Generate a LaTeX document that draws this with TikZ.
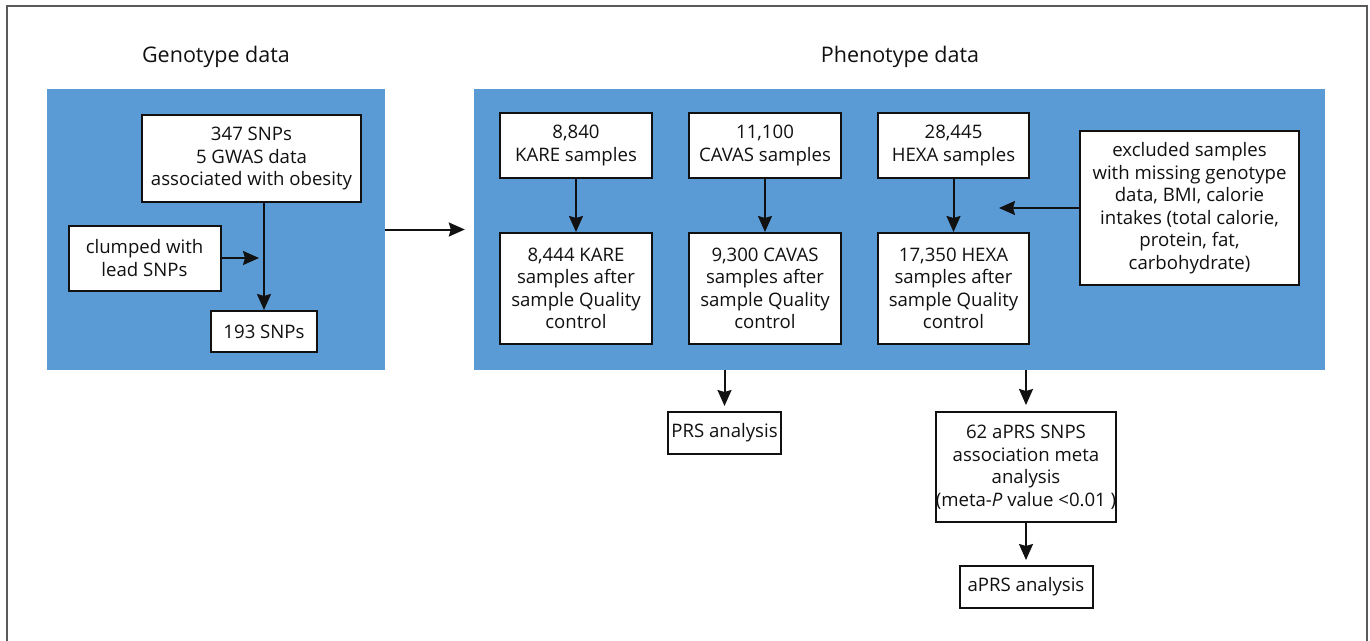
\documentclass[tikz,border=0pt]{standalone}
\usepackage{fontspec}
\setmainfont{Open Sans}
\usetikzlibrary{arrows.meta,positioning,calc}
\definecolor{panelblue}{HTML}{5B9BD5}
\definecolor{framegray}{HTML}{5A5A5A}
\definecolor{inkc}{HTML}{111111}
\tikzset{
  x=1pt,y=-1pt,
  panel/.style={fill=panelblue,draw=none,inner sep=0pt},
  stepbox/.style={draw=inkc,fill=white,line width=2pt,align=center,inner sep=0pt,
     font=\fontsize{18.6}{22.5}\selectfont,text=inkc},
  titletext/.style={font=\fontsize{21.5}{25}\selectfont,text=inkc},
  arr/.style={draw=inkc,line width=2pt,-{Stealth[length=16pt,width=14pt,inset=2pt]}},
}
\begin{document}
\begin{tikzpicture}
\useasboundingbox (0,0) rectangle (1370,640);
% frame
\draw[framegray,line width=2pt] (7,641) -- (7,6) -- (1367,6) -- (1367,641);
% titles
\node[titletext] (tgeno) at (216,57) {Genotype data};
\node[titletext] (tpheno) at (900,57) {Phenotype data};
% panels
\node[panel,minimum width=338pt,minimum height=281pt] (geno) at (216,229.5) {};
\node[panel,minimum width=851pt,minimum height=281pt] (pheno) at (899.5,229.5) {};
% genotype boxes
\node[stepbox,minimum width=219pt,minimum height=87pt] (gwas) at (251.5,158.5)
  {347 SNPs\\5 GWAS data\\associated with obesity};
\node[stepbox,minimum width=152pt,minimum height=65pt] (clump) at (144.5,258)
  {clumped with\\lead SNPs};
\node[stepbox,minimum width=106pt,minimum height=41pt] (snp) at (264,331.5)
  {193 SNPs};
% phenotype boxes
\node[stepbox,minimum width=152pt,minimum height=65pt] (kare1) at (576,145.5)
  {8,840\\KARE samples};
\node[stepbox,minimum width=152pt,minimum height=111pt] (kare2) at (576,288.5)
  {8,444 KARE\\samples after\\sample Quality\\control};
\node[stepbox,minimum width=152pt,minimum height=65pt] (cavas1) at (765,145.5)
  {11,100\\CAVAS samples};
\node[stepbox,minimum width=152pt,minimum height=111pt] (cavas2) at (765,288.5)
  {9,300 CAVAS\\samples after\\sample Quality\\control};
\node[stepbox,minimum width=151pt,minimum height=65pt] (hexa1) at (953.5,145.5)
  {28,445\\HEXA samples};
\node[stepbox,minimum width=151pt,minimum height=111pt] (hexa2) at (953.5,288.5)
  {17,350 HEXA\\samples after\\sample Quality\\control};
\node[stepbox,minimum width=219pt,minimum height=154pt] (excl) at (1189.5,208)
  {excluded samples\\with missing genotype\\data, BMI, calorie\\intakes (total calorie,\\protein, fat,\\carbohydrate)};
% results
\node[stepbox,minimum width=113pt,minimum height=42pt] (prs) at (724.5,433)
  {PRS analysis};
\node[stepbox,minimum width=178pt,minimum height=110pt] (meta) at (1026,467)
  {62 aPRS SNPS\\association meta\\analysis\\(meta-\textit{P} value <0.01 )};
\node[stepbox,minimum width=133pt,minimum height=42pt] (aprs) at (1026,587)
  {aPRS analysis};
\coordinate (exclend) at (999,208);
% connectors
\draw[arr] (gwas.south -| snp.north) -- (snp.north);
\draw[arr,shorten >=5pt] (clump.east) -- (clump.east -| snp.north);
\draw[arr,shorten >=9pt] (geno.east) -- (geno.east -| pheno.west);
\draw[arr] (kare1) -- (kare2);
\draw[arr] (cavas1) -- (cavas2);
\draw[arr] (hexa1) -- (hexa2);
\draw[arr] (excl.west) -- (exclend);
\draw[arr,shorten >=5pt] (pheno.south -| prs.north) -- (prs.north);
\draw[arr,shorten >=6pt] (pheno.south -| meta.north) -- (meta.north);
\draw[arr,shorten >=5pt] (meta) -- (aprs);
\end{tikzpicture}
\end{document}
